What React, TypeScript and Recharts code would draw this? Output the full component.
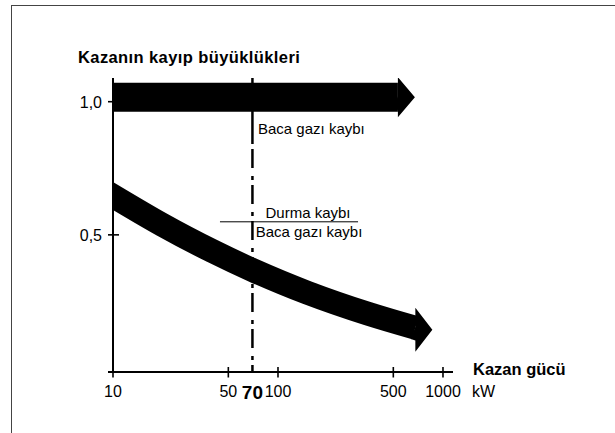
import React from "react";
import { ComposedChart, Line, XAxis, YAxis, ReferenceLine } from "recharts";

// kazan gücü (kW), logaritmik eksen
const xTicks = [10, 50, 70, 100, 500, 1000];
const xDomain = [10, 1150];

// kayıp büyüklükleri
const yTicks = [0.5, 1.0];
const yDomain = [-0.015, 1.089];

// baca gazı kaybı: yatay ok
const flueGasLoss = [
  { x: 10, y: 1.017 },
  { x: 533, y: 1.017 },
];

// durma kaybı / baca gazı kaybı: azalan ok
const standbyRatio = [
  { x: 9, y: 0.663 },
  { x: 20, y: 0.537 },
  { x: 40, y: 0.439 },
  { x: 70, y: 0.368 },
  { x: 150, y: 0.283 },
  { x: 350, y: 0.204 },
  { x: 680, y: 0.151 },
];

const markerPower = 70;
const markerSolidTop = [
  { x: markerPower, y: 1.089 },
  { x: markerPower, y: 0.856 },
];
const markerDashed = [
  { x: markerPower, y: 0.856 },
  { x: markerPower, y: -0.015 },
];
const fractionBar = [
  { x: 44.5, y: 0.549 },
  { x: 305.6, y: 0.549 },
];

const FONT = "'Liberation Sans', Arial, Helvetica, sans-serif";

function PowerTick(props: any) {
  const { x, y, payload } = props;
  const v = payload.value;
  if (v === markerPower) {
    return (
      <text x={x} y={y + 27} textAnchor="middle" fontSize={19} fontWeight="bold" fill="#000">
        {v}
      </text>
    );
  }
  return (
    <g>
      {v === 10 && <line x1={x - 5} y1={y} x2={x} y2={y} stroke="#000" strokeWidth={2} />}
      <line x1={x} y1={y - 5} x2={x} y2={y + 5.5} stroke="#000" strokeWidth={1.6} />
      <text x={x} y={y + 24.5} textAnchor="middle" fontSize={16} fill="#000">
        {v}
      </text>
    </g>
  );
}

function LossTick(props: any) {
  const { x, y, payload } = props;
  return (
    <g>
      <line x1={x - 5} y1={y} x2={x + 6} y2={y} stroke="#000" strokeWidth={1.6} />
      <text x={x - 11} y={y + 6} textAnchor="end" fontSize={16} fill="#000">
        {payload.value.toFixed(1).replace(".", ",")}
      </text>
    </g>
  );
}

function arrowHead(last: number, lift: number) {
  return (props: any) => {
    const { cx, cy, index } = props;
    if (index !== last || cx == null) return <g key={`d${index}`} />;
    return (
      <polygon
        key={`d${index}`}
        points={`${cx},${cy - 20} ${cx + 17},${cy + lift} ${cx},${cy + 20 + 2 * lift} ${cx},${cy + 12.8} ${cx - 4.5},${cy + 11.3} ${cx},${cy - 1}`}
        fill="#000"
      />
    );
  };
}

export default function App() {
  return (
    <div
      style={{
        position: "absolute",
        left: 0,
        top: 0,
        width: 615,
        height: 433,
        overflow: "hidden",
        background: "#fff",
        fontFamily: FONT,
      }}
    >
      <div
        style={{
          position: "absolute",
          left: 11,
          top: 5,
          width: 700,
          height: 500,
          borderLeft: "1px solid #444",
          borderTop: "1px solid #444",
        }}
      />
      <div style={{ position: "absolute", left: 0, top: 0 }}>
        <ComposedChart
          width={615}
          height={433}
          margin={{ top: 78, right: 162, bottom: 31, left: 73 }}
          style={{ fontFamily: FONT }}
        >
          <XAxis
            dataKey="x"
            type="number"
            scale="log"
            domain={xDomain}
            ticks={xTicks}
            interval={0}
            allowDataOverflow
            height={30}
            tickSize={0}
            tickMargin={0}
            tickLine={false}
            axisLine={{ stroke: "#000", strokeWidth: 2 }}
            tick={<PowerTick />}
          />
          <YAxis
            type="number"
            domain={yDomain}
            ticks={yTicks}
            interval={0}
            allowDataOverflow
            width={40}
            tickSize={0}
            tickMargin={0}
            tickLine={false}
            axisLine={{ stroke: "#000", strokeWidth: 2 }}
            tick={<LossTick />}
          />
          <ReferenceLine segment={markerSolidTop} stroke="#000" strokeWidth={2.5} />
          <ReferenceLine
            segment={markerDashed}
            stroke="#000"
            strokeWidth={2.5}
            strokeDasharray="4 5 19 8"
          />
          <ReferenceLine segment={fractionBar} stroke="#000" strokeWidth={1} />
          <Line
            data={flueGasLoss}
            dataKey="y"
            type="linear"
            stroke="#000"
            strokeWidth={29}
            dot={arrowHead(flueGasLoss.length - 1, 0)}
            activeDot={false}
            isAnimationActive={false}
          />
          <Line
            data={standbyRatio}
            dataKey="y"
            type="natural"
            stroke="#000"
            strokeWidth={24}
            dot={arrowHead(standbyRatio.length - 1, 2)}
            activeDot={false}
            isAnimationActive={false}
          />
        </ComposedChart>
      </div>
      <svg
        width={615}
        height={433}
        style={{ position: "absolute", left: 0, top: 0, pointerEvents: "none", fontFamily: FONT }}
      >
        <text x={78} y={63} fontSize={16.5} fontWeight="bold" letterSpacing={0.4} fill="#000">
          Kazanın kayıp büyüklükleri
        </text>
        <text x={258} y={133.5} fontSize={15} fill="#000">
          Baca gazı kaybı
        </text>
        <text x={308} y={217.5} fontSize={15} textAnchor="middle" fill="#000">
          Durma kaybı
        </text>
        <text x={309} y={237} fontSize={15} textAnchor="middle" fill="#000">
          Baca gazı kaybı
        </text>
        <text x={473} y={375} fontSize={16.5} fontWeight="bold" fill="#000">
          Kazan gücü
        </text>
        <text x={472} y={397} fontSize={16} fill="#000">
          kW
        </text>
      </svg>
    </div>
  );
}
